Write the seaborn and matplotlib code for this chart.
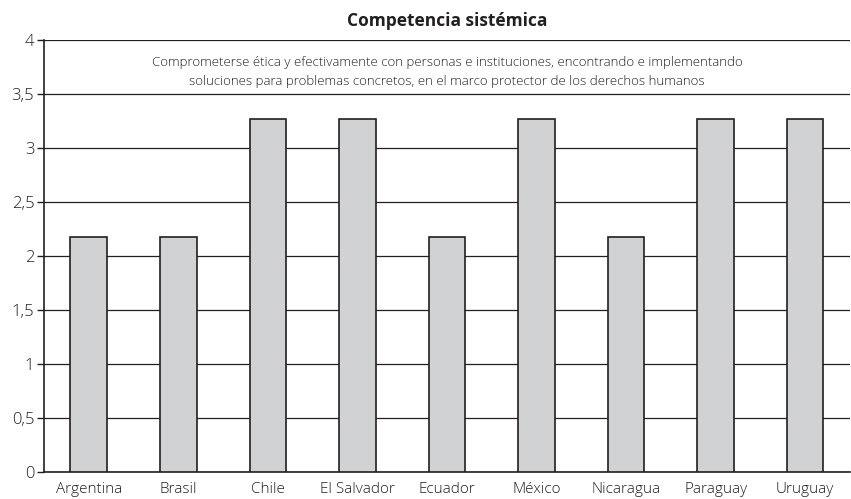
import matplotlib
matplotlib.use("Agg")
import matplotlib.pyplot as plt
import matplotlib.ticker as mticker
import pandas as pd
import seaborn as sns

paises = ['Argentina', 'Brasil', 'Chile', 'El Salvador', 'Ecuador', 'México',
          'Nicaragua', 'Paraguay', 'Uruguay']
valores = [2.18, 2.18, 3.27, 3.27, 2.18, 3.27, 2.18, 3.27, 3.27]

titulo = 'Competencia sistémica'
nota = ('Comprometerse ética y efectivamente con personas e instituciones, encontrando e implementando\n'
        'soluciones para problemas concretos, en el marco protector de los derechos humanos')

data = pd.DataFrame({'pais': paises, 'valor': valores})

sns.set_style('white')
plt.rcParams['font.family'] = ['Open Sans', 'DejaVu Sans']

fig = plt.figure(figsize=(8.51, 4.99), dpi=100)
ax = fig.add_axes([0.0517, 0.054, 0.947, 0.866])

sns.barplot(data=data, x='pais', y='valor', ax=ax, color='#d1d2d4',
            edgecolor='#231f20', linewidth=1.2, width=0.41, saturation=1, zorder=3)

ax.set_xlim(-0.5, len(paises) - 0.5)
ax.set_ylim(0, 4)
ax.yaxis.set_major_locator(mticker.MultipleLocator(0.5))
ax.yaxis.set_major_formatter(mticker.FuncFormatter(lambda v, p: f'{v:g}'.replace('.', ',')))
ax.grid(axis='y', color='#231f20', linewidth=0.9, zorder=0)
ax.set_axisbelow(True)

ax.set_xticks(range(len(paises)))
ax.set_xticklabels(paises, fontweight='light')
ax.tick_params(axis='x', which='major', length=0, labelsize=11, pad=7, colors='#231f20')
ax.set_xticks([i + 0.5 for i in range(len(paises) - 1)], minor=True)
ax.tick_params(axis='x', which='minor', length=5, width=1, color='#231f20', direction='out')
ax.tick_params(axis='y', length=5, width=1, color='#231f20', direction='out',
               labelsize=12, pad=2, left=True, labelcolor='#231f20')
for t in ax.get_yticklabels():
    t.set_fontweight('light')

for s in ['top', 'right']:
    ax.spines[s].set_visible(False)
for s in ['left', 'bottom']:
    ax.spines[s].set_color('#231f20')
    ax.spines[s].set_linewidth(1.2)

ax.set_xlabel('')
ax.set_ylabel('')
ax.set_title(titulo, fontsize=12.5, fontweight='bold', pad=10, color='#231f20')
ax.text(0.5, 0.963, nota, transform=ax.transAxes, ha='center', va='top',
        fontsize=9.5, color='#231f20', linespacing=1.6, fontweight='light',
        bbox=dict(facecolor='white', edgecolor='none', pad=0), zorder=5)

fig.savefig('out.png', dpi=100)
